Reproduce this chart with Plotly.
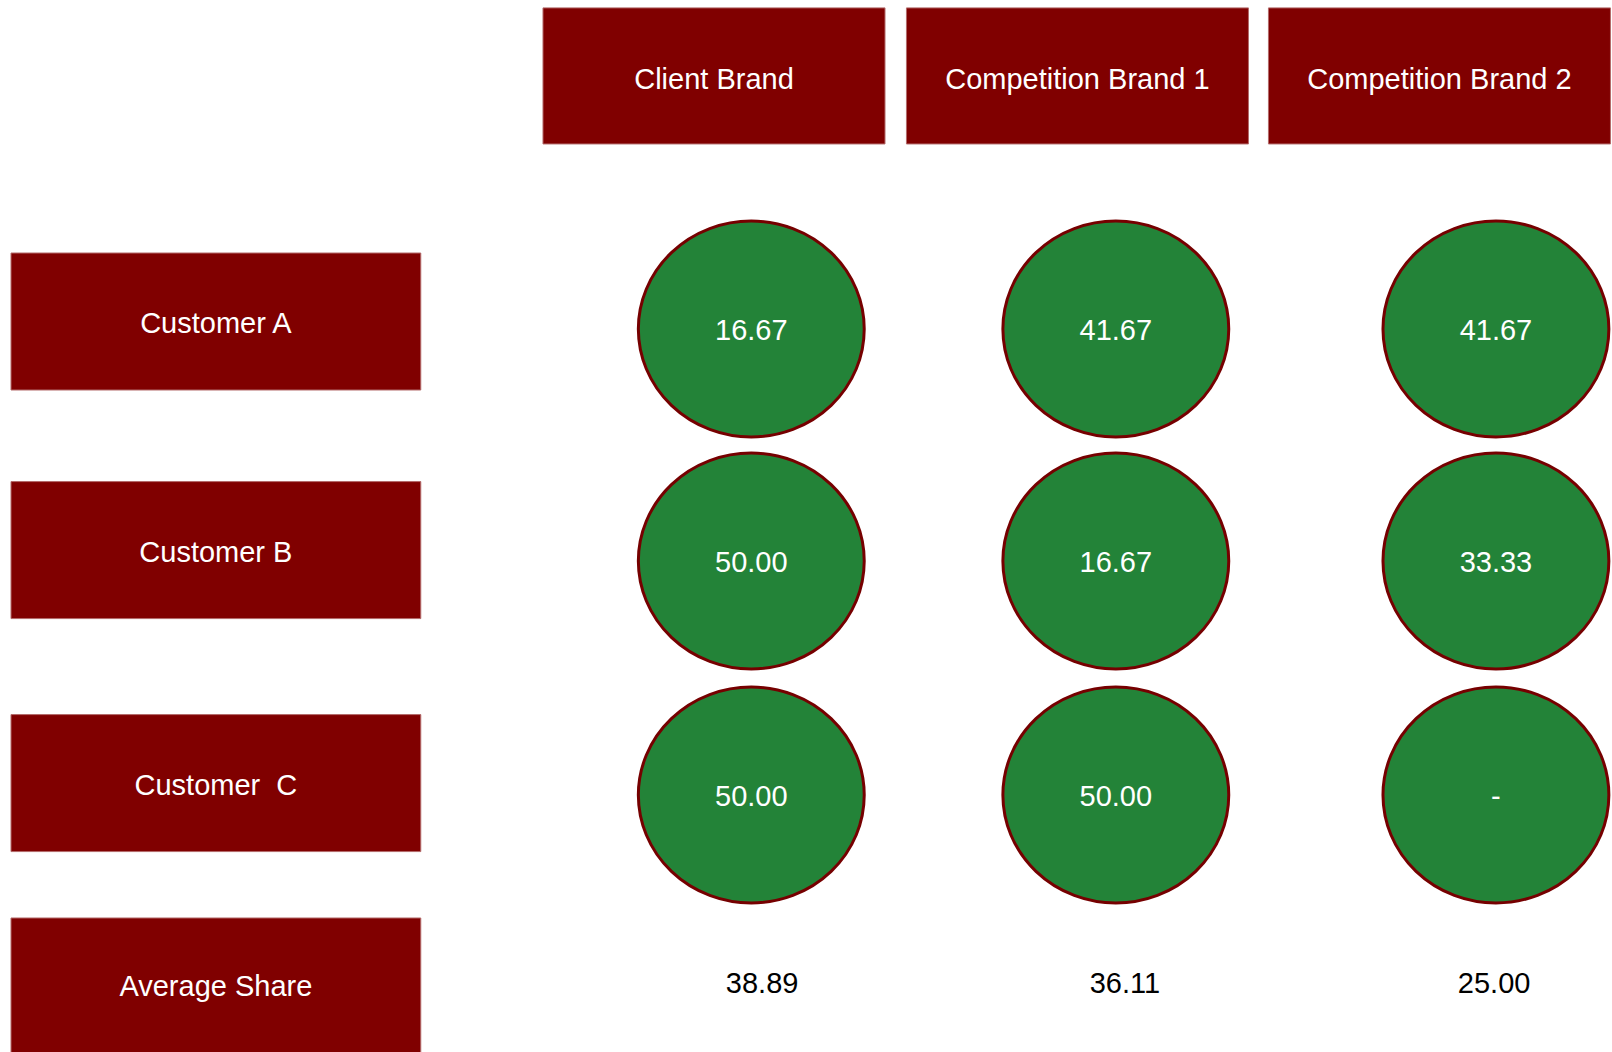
import plotly.graph_objects as go

# ---------------- data ----------------
brands = ["Client Brand", "Competition Brand 1", "Competition Brand 2"]
customers = ["Customer A", "Customer B", "Customer  C"]
summary_label = "Average Share"
share_client = [16.67, 50.00, 50.00]
share_comp1 = [41.67, 16.67, 50.00]
share_comp2 = [41.67, 33.33, None]
average_share = [38.89, 36.11, 25.00]

# ---------------- layout constants (grid units) ----------------
W, H = 1612, 1052
X0, UX = 352.0, 362.0          # px of grid x=0, px per column
Y0, UY = 92.0, 233.0           # px of grid y=0, px per row
x_range = [-X0 / UX, (W - X0) / UX]
y_range = [(H - Y0) / UY, -Y0 / UY]

header_cols = [1, 2.004, 3.004]
body_cols = [1.103, 2.11, 3.16]
avg_cols = [1.133, 2.135, 3.155]
label_col = -0.376
label_half_w = 0.566
header_row = -0.069
header_half_h = 0.292
header_half_w = 0.4724
label_rows = [0.985, 1.966, 2.966]
cell_rows = [1.017, 2.013, 3.017]
avg_row = 3.85
label_half_h = 0.294
avg_half_h = 0.305
ell_half_w = 0.312
ell_half_h = 0.4635
# small vertical nudges so text sits optically centred
dy_header = 0.026
dy_label = 0.018
dy_cell = 0.018
dy_avg = -0.013

MAROON = "#800000"
GREEN = "#238338"
RING = "#760000"
FONT = "Liberation Sans, Arial, sans-serif"
FS = 29

columns = [share_client, share_comp1, share_comp2]

fig = go.Figure()
shapes = []

# header boxes
for cx in header_cols:
    shapes.append(dict(type="rect", xref="x", yref="y",
                       x0=cx - header_half_w, x1=cx + header_half_w,
                       y0=header_row - header_half_h, y1=header_row + header_half_h,
                       fillcolor=MAROON, line=dict(color="#b36a6a", width=1), layer="below"))
# row label boxes
for ry in label_rows:
    shapes.append(dict(type="rect", xref="x", yref="y",
                       x0=label_col - label_half_w, x1=label_col + label_half_w,
                       y0=ry - label_half_h, y1=ry + label_half_h,
                       fillcolor=MAROON, line=dict(color="#b36a6a", width=1), layer="below"))
shapes.append(dict(type="rect", xref="x", yref="y",
                   x0=label_col - label_half_w, x1=label_col + label_half_w,
                   y0=avg_row - avg_half_h, y1=avg_row + avg_half_h,
                   fillcolor=MAROON, line=dict(color="#b36a6a", width=1), layer="below"))
# value ellipses
for cx, vals in zip(body_cols, columns):
    for ry, v in zip(cell_rows, vals):
        shapes.append(dict(type="circle", xref="x", yref="y",
                           x0=cx - ell_half_w, x1=cx + ell_half_w,
                           y0=ry - ell_half_h, y1=ry + ell_half_h,
                           fillcolor=GREEN, line=dict(color=RING, width=3), layer="below"))

def fmt(v):
    return "-" if v is None else f"{v:.2f}"

# header texts
fig.add_trace(go.Scatter(x=header_cols, y=[header_row + dy_header] * len(brands), text=brands,
                         mode="text", textposition="middle center",
                         textfont=dict(color="white", size=FS, family=FONT),
                         hoverinfo="skip", showlegend=False))
# row label texts
fig.add_trace(go.Scatter(x=[label_col] * (len(customers) + 1),
                         y=[r + dy_label for r in label_rows] + [avg_row],
                         text=customers + [summary_label],
                         mode="text", textposition="middle center",
                         textfont=dict(color="white", size=FS, family=FONT),
                         hoverinfo="skip", showlegend=False))
# cell values
xs, ys, ts = [], [], []
for cx, vals in zip(body_cols, columns):
    for ry, v in zip(cell_rows, vals):
        xs.append(cx); ys.append(ry + dy_cell); ts.append(fmt(v))
fig.add_trace(go.Scatter(x=xs, y=ys, text=ts, mode="text", textposition="middle center",
                         textfont=dict(color="white", size=FS, family=FONT),
                         hoverinfo="skip", showlegend=False))
# averages
fig.add_trace(go.Scatter(x=avg_cols, y=[avg_row + dy_avg] * len(average_share),
                         text=[fmt(v) for v in average_share],
                         mode="text", textposition="middle center",
                         textfont=dict(color="black", size=FS, family=FONT),
                         hoverinfo="skip", showlegend=False))

fig.update_layout(
    width=W, height=H,
    margin=dict(l=0, r=0, t=0, b=0),
    paper_bgcolor="white", plot_bgcolor="white",
    shapes=shapes,
    xaxis=dict(range=x_range, visible=False, fixedrange=True),
    yaxis=dict(range=y_range, visible=False, fixedrange=True),
    showlegend=False,
)

fig.write_html("out.html")
